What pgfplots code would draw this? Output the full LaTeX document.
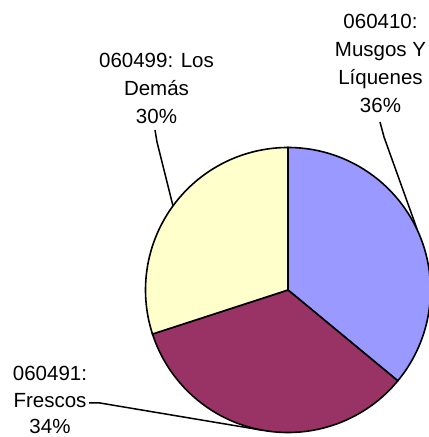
\documentclass[border=0pt]{standalone}
\usepackage{pgfplots}
\pgfplotsset{compat=1.18}
\usepackage{fontspec}
\setmainfont{Liberation Sans}
\definecolor{cA}{HTML}{9999FF}
\definecolor{cB}{HTML}{993366}
\definecolor{cC}{HTML}{FFFFCC}
% shares (percent), clockwise from 12 o'clock
\def\pA{36}\def\pB{34}\def\pC{30}
\begin{document}
\begin{tikzpicture}
\begin{axis}[at={(0,0)}, anchor=south west, width=429bp, height=437bp, scale only axis,
  xmin=0, xmax=429, ymin=0, ymax=437, hide axis, clip=false]
% pie slices (center 288,147; radius 142.5)
\filldraw[fill=cA, draw=black, line width=1.6bp] (axis cs:288,147) -- ([shift={(90:142.5bp)}]axis cs:288,147)
  arc[start angle=90, end angle={90-3.6*\pA}, radius=142.5bp] -- cycle;
\filldraw[fill=cB, draw=black, line width=1.6bp] (axis cs:288,147) -- ([shift={({90-3.6*\pA}:142.5bp)}]axis cs:288,147)
  arc[start angle={90-3.6*\pA}, end angle={90-3.6*(\pA+\pB)}, radius=142.5bp] -- cycle;
\filldraw[fill=cC, draw=black, line width=1.6bp] (axis cs:288,147) -- ([shift={({90-3.6*(\pA+\pB)}:142.5bp)}]axis cs:288,147)
  arc[start angle={90-3.6*(\pA+\pB)}, end angle=-270, radius=142.5bp] -- cycle;
% leader lines
\addplot[black, line width=1.5bp] coordinates {(380,315) (384,300) (417,208)};
\addplot[black, line width=1.5bp] coordinates {(155,307) (157,295) (173,231)};
\addplot[black, line width=1.5bp] coordinates {(89,34) (100,34) (261,7)};
% labels
\begin{scope}[every node/.style={anchor=base, inner sep=0pt, font=\fontsize{20.5bp}{28bp}\selectfont}]
\node at (axis cs:380.5,408) {060410:};
\node at (axis cs:380.5,380) {Musgos Y};
\node at (axis cs:380.5,352) {Líquenes};
\node at (axis cs:380.5,324) {36\%};
\node at (axis cs:156.5,369) {060499: Los};
\node at (axis cs:156.5,341) {Demás};
\node at (axis cs:156.5,313) {30\%};
\node at (axis cs:50,56) {060491:};
\node at (axis cs:50,30) {Frescos};
\node at (axis cs:50,4) {34\%};
\end{scope}
\end{axis}
\pgfresetboundingbox
\path[use as bounding box] (0,0) rectangle (429bp,437bp);
\end{tikzpicture}
\end{document}
